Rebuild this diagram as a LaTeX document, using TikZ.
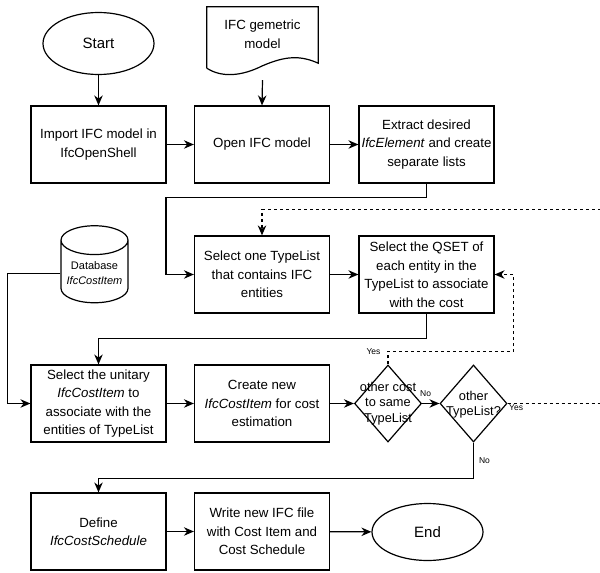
\documentclass[tikz,border=0pt]{standalone}
\usepackage{fontspec}
\setmainfont{Liberation Sans}
\usetikzlibrary{shapes.geometric,arrows.meta,calc}

\begin{document}
\begin{tikzpicture}[x=1pt, y=-1pt,
		box/.style={draw, line width=1.2pt, minimum width=135pt, minimum height=77pt, inner sep=1pt, align=center, font=\fontsize{13.3}{18.5}\selectfont},
		term/.style={draw, line width=1.2pt, ellipse, minimum width=111pt, minimum height=62pt, font=\fontsize{15}{18}\selectfont},
		decision/.style={draw, line width=1.2pt, diamond, minimum width=67pt, minimum height=77pt, inner sep=0pt},
		dtext/.style={align=center, font=\fontsize{12.8}{15.5}\selectfont},
		flow/.style={line width=1.2pt, -{Stealth[length=10pt, width=8.5pt]}},
		loopback/.style={flow, dash pattern=on 3pt off 3pt},
		tag/.style={font=\fontsize{8.5}{10}\selectfont, inner sep=1pt}]
		\useasboundingbox (0,0) rectangle (600,573);
		\clip (0,0) rectangle (600,573);

		% first row
		\node [term] (start) at (98.5,43.5) {Start};
		\node [minimum width=111pt, minimum height=54pt, align=center, font=\fontsize{13.3}{18.5}\selectfont] (geo) at (262.5,34) {IFC gemetric\\model};
		\draw [line width=1.2pt] ($(geo.south west)+(0,7)$) -- (geo.north west) -- (geo.north east) -- ($(geo.south east)+(0,2)$)
			.. controls (300,55) and (285,56) .. (262,66) .. controls (242,76) and (222,78) .. ($(geo.south west)+(0,7)$);
		\node [box] (imp) at (98.5,144.5) {Import IFC model in\\IfcOpenShell};
		\node [box] (open) at (262,144.5) {Open IFC model};
		\node [box] (extract) at (426.5,144.5) {Extract desired\\\textit{IfcElement} and create\\separate lists};

		% type lists
		\node [draw, line width=1.2pt, cylinder, shape border rotate=90, aspect=0.5, minimum width=67pt, minimum height=77pt, inner sep=1pt, align=center, font=\fontsize{11}{15}\selectfont] (db) at (94.5,273.5) {Database\\\textit{IfcCostItem}};
		\node [box] (pick) at (262,274.5) {Select one TypeList\\that contains IFC\\entities};
		\node [box] (qset) at (426.5,274.5) {Select the QSET of\\each entity in the\\TypeList to associate\\with the cost};

		% cost items and checks
		\node [box] (sel) at (98.5,403.5) {Select the unitary\\\textit{IfcCostItem} to\\associate with the\\entities of TypeList};
		\node [box] (create) at (262,403.5) {Create new\\\textit{IfcCostItem} for cost\\estimation};
		\node [decision, label={[dtext]center:{other cost\\to same\\TypeList}}] (same) at (388,403.5) {};
		\node [decision, label={[dtext, yshift=-1pt]center:{other\\TypeList?}}] (other) at (473.5,403.5) {};

		% last row
		\node [box] (sched) at (98.5,531.5) {Define\\\textit{IfcCostSchedule}};
		\node [box] (write) at (262,531.5) {Write new IFC file\\with Cost Item and\\Cost Schedule};
		\node [term, minimum height=57pt] (end) at (427.5,532) {End};

		\draw [flow] (start) -- (imp);
		\draw [flow] ([yshift=-19pt]geo.south) -- (open.north);
		\draw [flow] (imp) -- (open);
		\draw [flow] (open) -- (extract);
		\draw [flow] (extract.south) -- ++(0,14) -| ($(pick.west)+(-28,0)$) -- (pick.west);
		\draw [flow] (pick) -- (qset);
		\draw [flow] (qset.south) -- ++(0,25) -| (sel.north);
		\draw [flow] (db.west) -- ++(-53,0) |- (sel.west);
		\draw [flow] (sel) -- (create);
		\draw [flow] (create) -- (same);
		\draw [flow] (same) -- node [tag, pos=0.2, above=5pt] {No} (other);
		\draw [loopback] (same.north) -- ++(0,-13) node [tag, left=6pt] {Yes} -| ($(qset.east)+(19,0)$) -- (qset.east);
		\draw [loopback] (other.east) node [tag, below right] {Yes} -- (610,403.5) |- ($(pick.north)+(0,-26)$) -- (pick.north);
		\draw [flow] (other.south) -- ++(0,36) node [tag, midway, right=4pt] {No} -| (sched.north);
		\draw [flow] (sched) -- (write);
		\draw [flow] (write) -- (end);
	\end{tikzpicture}
\end{document}
